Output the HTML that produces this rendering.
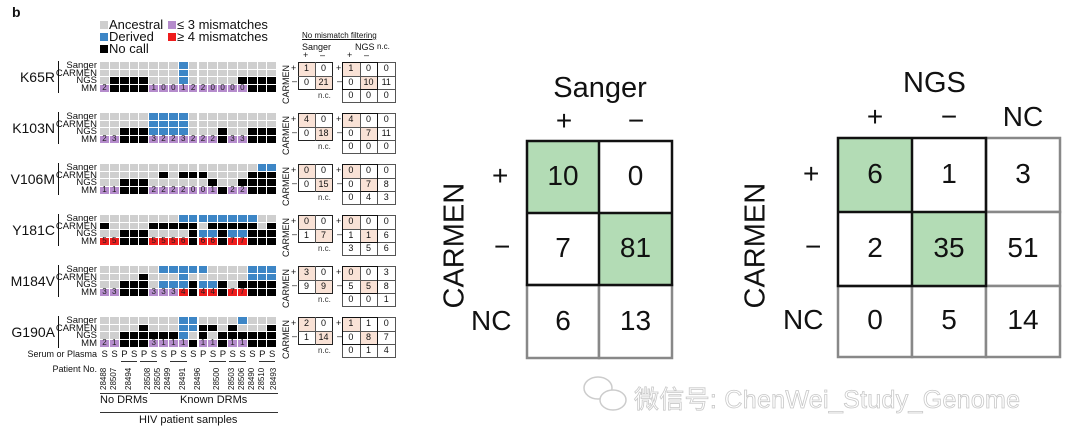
<!DOCTYPE html>
<html><head><meta charset="utf-8"><style>
body{margin:0;width:1080px;height:445px;background:#fff;position:relative;overflow:hidden;font-family:"Liberation Sans",Arial,sans-serif;color:#111}
.a{position:absolute;white-space:nowrap}
.c{position:absolute;box-sizing:border-box}
</style></head><body>
<div class="a" style="left:12px;top:4px;font-weight:bold;font-size:14px">b</div>
<div class="c" style="left:100px;top:21px;width:8px;height:8px;background:#cfcfcf"></div><div class="a" style="left:109px;top:17px;font-size:13px">Ancestral</div>
<div class="c" style="left:100px;top:33px;width:8px;height:8px;background:#3d86c6"></div><div class="a" style="left:109px;top:29px;font-size:13px">Derived</div>
<div class="c" style="left:100px;top:45px;width:8px;height:8px;background:#000"></div><div class="a" style="left:109px;top:41px;font-size:13px">No call</div>
<div class="c" style="left:168px;top:21px;width:8px;height:8px;background:#b58ccc"></div><div class="a" style="left:177px;top:17px;font-size:13px">≤ 3 mismatches</div>
<div class="c" style="left:168px;top:33px;width:8px;height:8px;background:#ee1c1c"></div><div class="a" style="left:177px;top:29px;font-size:13px">≥ 4 mismatches</div>
<div class="a" style="left:302px;top:31px;font-size:8px;text-decoration:underline">No mismatch filtering</div>
<div class="a" style="left:302px;top:42px;font-size:9px">Sanger</div>
<div class="a" style="left:355px;top:42px;font-size:9px">NGS</div>
<div class="a" style="left:377px;top:42px;font-size:8px">n.c.</div>
<div class="a" style="left:303px;top:50px;font-size:9px">+</div><div class="a" style="left:320px;top:50px;font-size:9px">–</div>
<div class="a" style="left:347px;top:50px;font-size:9px">+</div><div class="a" style="left:364px;top:50px;font-size:9px">–</div>
<div id="g"></div>

<div class="a" style="left:528px;top:72px;width:144px;text-align:center;font-size:29px">Sanger</div>
<div class="a" style="left:528px;top:105px;width:72px;text-align:center;font-size:28px">+</div>
<div class="a" style="left:600px;top:105px;width:72px;text-align:center;font-size:28px">−</div>
<div class="a" style="left:395px;top:232px;width:120px;text-align:center;font-size:29px;transform:rotate(-90deg)">CARMEN</div>
<div class="a" style="left:492px;top:160px;font-size:28px">+</div>
<div class="a" style="left:494px;top:231px;font-size:28px">−</div>
<div class="a" style="left:471px;top:305px;font-size:28px">NC</div>
<svg class="a" style="left:0;top:0" width="1080" height="445">
<g stroke="#888" stroke-width="2.5" fill="#fff"><rect x="527" y="285" width="72" height="73"/><rect x="599" y="285" width="73" height="73"/></g>
<rect x="527" y="141" width="72" height="72" fill="#b3dcb5"/><rect x="599" y="213" width="73" height="72" fill="#b3dcb5"/>
<g stroke="#111" stroke-width="2.5" fill="none"><rect x="527" y="141" width="145" height="144"/><line x1="599" y1="141" x2="599" y2="285"/><line x1="527" y1="213" x2="672" y2="213"/></g>
<g stroke="#888" stroke-width="2.5" fill="#fff"><rect x="986" y="138" width="74" height="74"/><rect x="986" y="212" width="74" height="74"/><rect x="838" y="286" width="74" height="71"/><rect x="912" y="286" width="74" height="71"/><rect x="986" y="286" width="74" height="71"/></g>
<rect x="838" y="138" width="74" height="74" fill="#b3dcb5"/><rect x="912" y="212" width="74" height="74" fill="#b3dcb5"/>
<g stroke="#111" stroke-width="2.5" fill="none"><rect x="838" y="138" width="148" height="148"/><line x1="912" y1="138" x2="912" y2="286"/><line x1="838" y1="212" x2="986" y2="212"/></g>
</svg>
<div class="a" style="left:527px;top:160px;width:72px;text-align:center;font-size:28px">10</div>
<div class="a" style="left:599px;top:160px;width:73px;text-align:center;font-size:28px">0</div>
<div class="a" style="left:527px;top:232px;width:72px;text-align:center;font-size:28px">7</div>
<div class="a" style="left:599px;top:232px;width:73px;text-align:center;font-size:28px">81</div>
<div class="a" style="left:527px;top:305px;width:72px;text-align:center;font-size:28px">6</div>
<div class="a" style="left:599px;top:305px;width:73px;text-align:center;font-size:28px">13</div>

<div class="a" style="left:903px;top:67px;font-size:29px">NGS</div>
<div class="a" style="left:838px;top:101px;width:74px;text-align:center;font-size:28px">+</div>
<div class="a" style="left:912px;top:101px;width:74px;text-align:center;font-size:28px">−</div>
<div class="a" style="left:986px;top:101px;width:74px;text-align:center;font-size:28px">NC</div>
<div class="a" style="left:696px;top:232px;width:120px;text-align:center;font-size:29px;transform:rotate(-90deg)">CARMEN</div>
<div class="a" style="left:803px;top:158px;font-size:28px">+</div>
<div class="a" style="left:805px;top:231px;font-size:28px">−</div>
<div class="a" style="left:783px;top:304px;font-size:28px">NC</div>
<div class="a" style="left:838px;top:158px;width:74px;text-align:center;font-size:28px">6</div>
<div class="a" style="left:912px;top:158px;width:74px;text-align:center;font-size:28px">1</div>
<div class="a" style="left:986px;top:158px;width:74px;text-align:center;font-size:28px">3</div>
<div class="a" style="left:838px;top:232px;width:74px;text-align:center;font-size:28px">2</div>
<div class="a" style="left:912px;top:232px;width:74px;text-align:center;font-size:28px">35</div>
<div class="a" style="left:986px;top:232px;width:74px;text-align:center;font-size:28px">51</div>
<div class="a" style="left:838px;top:304px;width:74px;text-align:center;font-size:28px">0</div>
<div class="a" style="left:912px;top:304px;width:74px;text-align:center;font-size:28px">5</div>
<div class="a" style="left:986px;top:304px;width:74px;text-align:center;font-size:28px">14</div>

<svg class="a" style="left:582px;top:374px" width="50" height="42"><g fill="#fff" stroke="#ccc" stroke-width="1.5"><ellipse cx="16" cy="14" rx="14" ry="11"/><ellipse cx="31" cy="26" rx="13" ry="10"/></g></svg>
<div class="a" style="left:634px;top:380px;font-size:25px;color:#fff;-webkit-text-stroke:0.8px #c8c8c8;font-family:'Liberation Sans','Noto Sans CJK SC',sans-serif;letter-spacing:0.3px">微信号: ChenWei_Study_Genome</div>

<script>
var G=document.getElementById('g'),h='';
function box(x,y,w,hh,bg,txt,col,fs){var s=(txt===undefined||txt===null)?'':String(txt);h+='<div class="c" style="left:'+x+'px;top:'+y+'px;width:'+w+'px;height:'+hh+'px;background:'+bg+';font-size:'+(fs||8)+'px;line-height:'+hh+'px;text-align:center;color:'+(col||'#111')+'">'+s+'</div>';}
function t(x,y,s,fs,extra){h+='<div class="a" style="left:'+x+'px;top:'+y+'px;font-size:'+fs+'px;'+(extra||'')+'">'+s+'</div>';}
var cols={g:'#cfcfcf',b:'#3d86c6',k:'#000'};
var D=[
['K65R',['ggggggggbggggggggg','ggggggggbggggggggg','gkkkkgggbgggggkkkk','2kkkk1001220000kkk'],[[1,0],[0,21]],[[1,0,0],[0,10,11],[0,0,0]]],
['K103N',['gggggbbbbggggggggg','gggggbbbbggggggggg','ggkkkbbbbgggkggkkk','23kkk3223222k33kkk'],[[4,0],[0,18]],[[4,0,0],[0,7,11],[0,0,0]]],
['V106M',['ggggggggggggggggbb','ggggggkgkkkggggkkk','ggkkkggggggkggkkkk','11kkk2222001k22kkk'],[[0,0],[0,15]],[[0,0,0],[0,7,8],[0,4,3]]],
['Y181C',['ggggggggbbbbbbbbgg','kggggkkkkkgkkkkkgk','ggkkkggggkbbkbbkkk','RRkkkRRRSkSSkTTkkk'],[[0,0],[1,7]],[[0,0,0],[1,1,6],[3,5,6]]],
['M184V',['ggggggbbbbbggggbbb','ggggkgggbggggggbbb','ggkkkgbbbkbbkgkkkk','33kkk333QkQQkTTkkk'],[[3,0],[9,9]],[[0,0,3],[5,5,8],[0,0,1]]],
['G190A',['ggggggggbbggggbggg','ggggkgggbbkkgkgggk','ggkkkkkkbgkgkkkkkk','21kkk3111k11k11kkk'],[[2,0],[1,14]],[[1,1,0],[0,8,7],[0,1,4]]]
];
var cw=9.85,rh=7.7,x0=100;
D.forEach(function(d,i){
 var T=62+51*i;
 t(0,T+7,'<div style="width:55px;text-align:right">'+d[0]+'</div>',14);
 h+='<div class="c" style="left:58px;top:'+(T-1)+'px;width:1px;height:32px;background:#111"></div>';
 ['Sanger','CARMEN','NGS','MM'].forEach(function(l,r){t(40,T+r*rh-2,'<div style="width:57px;text-align:right">'+l+'</div>',9.5,'line-height:11px');});
 for(var r=0;r<4;r++){var s=d[1][r];for(var c=0;c<18;c++){var ch=s[c],x=x0+c*cw,y=T+r*rh;
  if(r<3)box(x,y,cw-1,rh-1,cols[ch]);
  else{ if(ch=='k')box(x,y,cw-1,rh-1,'#000');
   else if(/[0-3]/.test(ch))box(x,y,cw-1,rh-1,'#b58ccc',ch,'#222',8);
   else {var m={R:'5',S:'6',Q:'4',T:'7'}[ch];box(x,y,cw-1,rh-1,'#ee1c1c',m,'#222',8);}
  }}}
 t(281,T+42,'CARMEN',9,'transform:rotate(-90deg);transform-origin:0 0');
 t(291,T+1,'+',9);t(292,T+14,'–',9);t(336,T+1,'+',9);t(337,T+14,'–',9);
 t(318,T+29,'n.c.',8,'color:#333');
 var S=d[2];for(var a=0;a<2;a++)for(var b=0;b<2;b++){box(298+b*17,T+a*13.5,17,13.5,a==b?'#f9e2d6':'#fff',S[a][b],'#111',9);}
 h+='<div class="c" style="left:298px;top:'+T+'px;width:35px;height:28px;border:1.2px solid #222"></div><div class="c" style="left:315px;top:'+T+'px;width:1px;height:28px;background:#555"></div><div class="c" style="left:298px;top:'+(T+13.5)+'px;width:35px;height:1px;background:#555"></div>';
 var N=d[3];for(var a=0;a<3;a++)for(var b=0;b<3;b++){box(342+b*17.7,T+a*13.7,17.7,13.7,(a==b&&a<2)?'#f9e2d6':'#fff',N[a][b],'#111',9);}
 h+='<div class="c" style="left:342px;top:'+T+'px;width:54px;height:41px;border:1px solid #555"></div>';
 for(var k=1;k<3;k++){h+='<div class="c" style="left:'+(342+k*17.7)+'px;top:'+T+'px;width:1px;height:41px;background:#555"></div><div class="c" style="left:342px;top:'+(T+k*13.7)+'px;width:54px;height:1px;background:#555"></div>';}
 h+='<div class="c" style="left:342px;top:'+T+'px;width:36px;height:28px;border:1.2px solid #111"></div>';
});
t(0,349,'<div style="width:97px;text-align:right">Serum or Plasma</div>',9);
var sp='SSPSPSSPSSPSPSSSPS';for(var c=0;c<18;c++)t(x0+c*cw+1.5,349,sp[c],9.5);
t(0,364,'<div style="width:97px;text-align:right">Patient No.</div>',9);
var pos=[[0,'28488'],[1,'28507'],[2.5,'28494'],[4.5,'28508'],[5.5,'28505'],[6.5,'28499'],[8,'28491'],[9.5,'28496'],[11.5,'28500'],[13,'28503'],[14,'28506'],[15,'28490'],[16,'28510'],[17.3,'28493']];
pos.forEach(function(p){t(x0+p[0]*cw-1,390,p[1],8,'transform:rotate(-90deg);transform-origin:0 0');});
[[2,3],[4,5],[7,8],[11,12],[13,14],[16,17]].forEach(function(q){h+='<div class="c" style="left:'+(x0+q[0]*cw+1)+'px;top:361px;width:'+(2*cw-3)+'px;height:1px;background:#333"></div>';});
h+='<div class="c" style="left:100px;top:393px;width:48px;height:1px;background:#333"></div><div class="c" style="left:150px;top:393px;width:128px;height:1px;background:#333"></div><div class="c" style="left:100px;top:412px;width:178px;height:1px;background:#333"></div>';
t(100,394,'No DRMs',11);t(180,394,'Known DRMs',11);t(139,414,'HIV patient samples',11);
G.innerHTML=h;
</script>
</body></html>
